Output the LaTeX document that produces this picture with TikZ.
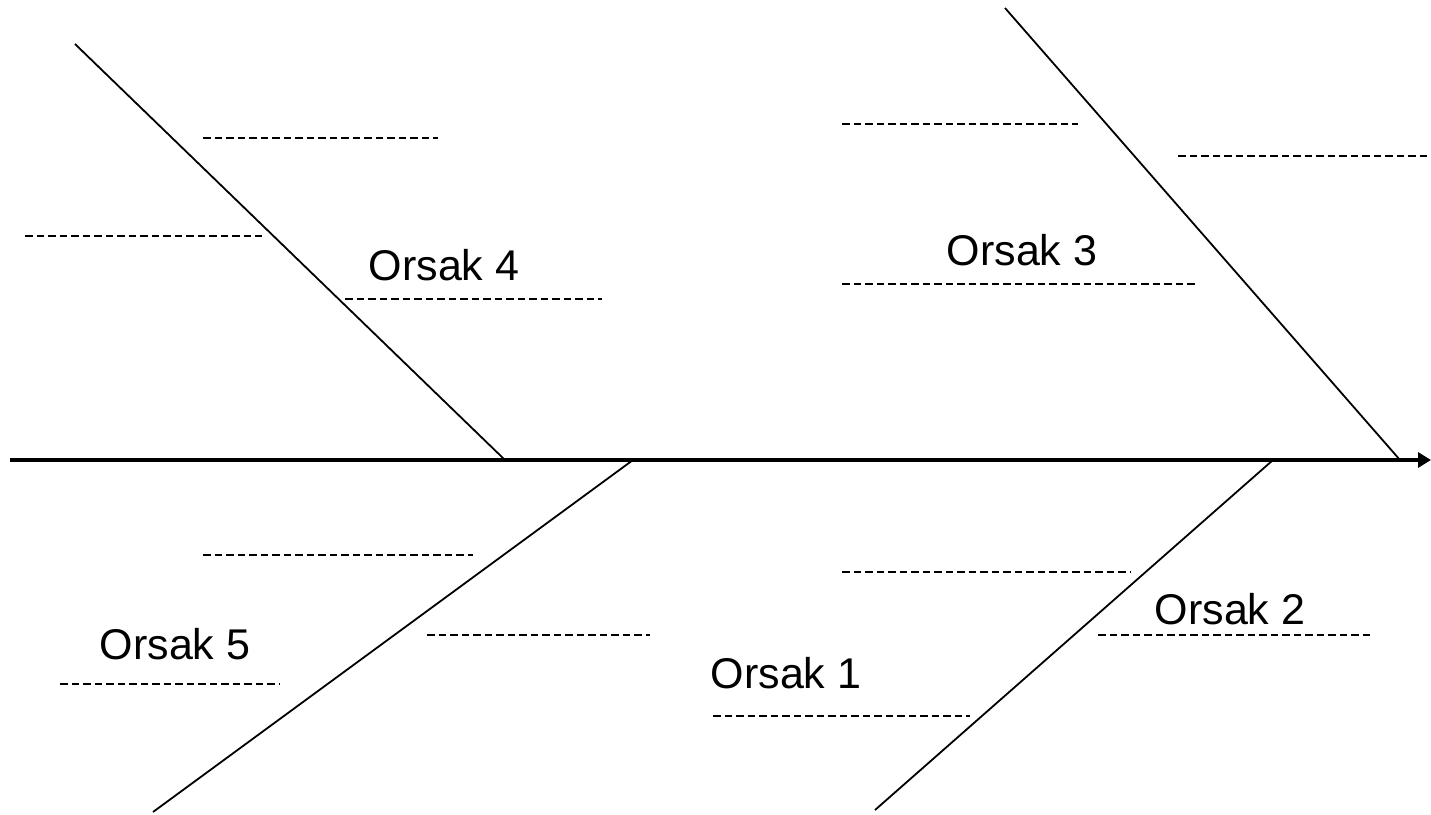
\documentclass[tikz,border=0pt]{standalone}
\usepackage{fontspec}
\setmainfont{Liberation Sans}
\usetikzlibrary{arrows.meta}
\begin{document}
\begin{tikzpicture}[x=1pt,y=-1pt,
  bone/.style={line width=1.8pt},
  slot/.style={line width=1.5pt,dash pattern=on 7.5pt off 4pt},
  lbl/.style={font=\fontsize{43}{50}\selectfont,inner sep=0pt}]
\useasboundingbox (0,0) rectangle (1431,814);
% spine
\coordinate (s0) at (10,460);
\coordinate (s1) at (1431,460);
\draw[line width=3.4pt,-{Triangle[length=13pt,width=15pt]}] (s0) -- (s1);
% bones
\coordinate (b4a) at (75,44);   \coordinate (b4b) at (505,460);
\coordinate (b3a) at (1005,8);  \coordinate (b3b) at (1400,460);
\coordinate (b5a) at (153,812); \coordinate (b5b) at (633,460);
\coordinate (b2a) at (875,810); \coordinate (b2b) at (1273,460);
\draw[bone] (b4a) -- (b4b);
\draw[bone] (b3a) -- (b3b);
\draw[bone] (b5a) -- (b5b);
\draw[bone] (b2a) -- (b2b);
% dashed slots
\coordinate (d1a) at (203,138); \coordinate (d1b) at (438,138);
\coordinate (d2a) at (25,236);  \coordinate (d2b) at (262,236);
\coordinate (d3a) at (345,299); \coordinate (d3b) at (602,299);
\coordinate (d4a) at (842,124); \coordinate (d4b) at (1078,124);
\coordinate (d5a) at (1178,156);\coordinate (d5b) at (1430,156);
\coordinate (d6a) at (842,284); \coordinate (d6b) at (1195,284);
\coordinate (d7a) at (203,555); \coordinate (d7b) at (473,555);
\coordinate (d8a) at (427,635); \coordinate (d8b) at (650,635);
\coordinate (d9a) at (60,684);  \coordinate (d9b) at (280,684);
\coordinate (d10a) at (842,572);\coordinate (d10b) at (1130,572);
\coordinate (d11a) at (1098,635);\coordinate (d11b) at (1370,635);
\coordinate (d12a) at (713,716);\coordinate (d12b) at (970,716);
\foreach \i in {1,...,12} {\draw[slot] (d\i a) -- (d\i b);}
% labels
\node[lbl,anchor=base] (o4) at (444,280) {Orsak 4};
\node[lbl,anchor=base] (o3) at (1022,265) {Orsak 3};
\node[lbl,anchor=base] (o5) at (175,659) {Orsak 5};
\node[lbl,anchor=base] (o2) at (1230,624) {Orsak 2};
\node[lbl,anchor=base] (o1) at (786,688) {Orsak 1};
\end{tikzpicture}
\end{document}
